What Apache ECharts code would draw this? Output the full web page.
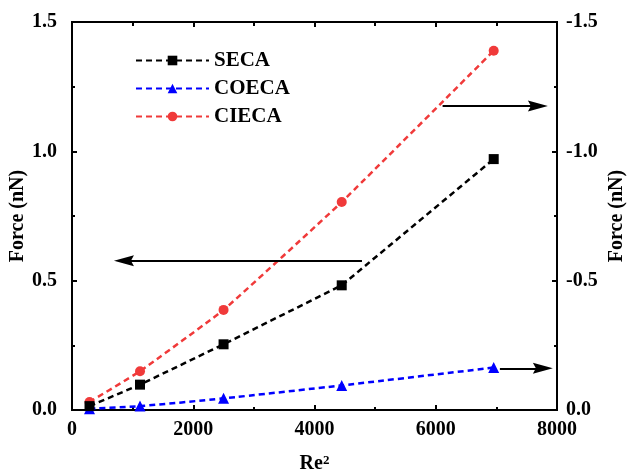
<!DOCTYPE html>
<html>
<head>
<meta charset="utf-8">
<script src="https://cdn.jsdelivr.net/npm/echarts@6/dist/echarts.min.js"></script>
<style>html,body{margin:0;padding:0;background:#fff}#c{width:627px;height:476px}</style>
</head>
<body>
<div id="c"></div>
<script>
// Re^2 values
const re2 = [289, 1122, 2500, 4449, 6956];
// Force values (nN)
const seca = [0.015, 0.098, 0.254, 0.482, 0.970];     // left axis
const coeca = [-0.005, -0.015, -0.045, -0.095, -0.164]; // right axis
const cieca = [-0.031, -0.150, -0.387, -0.804, -1.389]; // right axis
const seriesNames = ['SECA', 'COECA', 'CIECA'];
// annotation arrows [x0, y0, x1, y1] in left-axis data units (x1 = arrow head centre)
const arrows = [
  [4783, 0.577, 857, 0.577],
  [6113, 1.175, 7685, 1.175],
  [7058, 0.161, 7767, 0.161]
];

const FONT = 'Liberation Serif';
const txt = {fontFamily: FONT, fontWeight: 'bold', fontSize: 20, color: '#000'};
const axLine = () => ({show: true, onZero: false, lineStyle: {color: '#000', width: 2}});
const tick = () => ({show: true, inside: true, length: 5, lineStyle: {width: 2, color: '#000'}});
const minor = (len) => ({show: true, splitNumber: 2, length: len || 3, lineStyle: {width: 2, color: '#000'}});
const pair = (xs, ys) => xs.map((x, i) => [x, ys[i]]);
const dash = [6, 4];

const chart = echarts.init(document.getElementById('c'), null, {renderer: 'canvas'});
chart.setOption({
  animation: false,
  backgroundColor: '#fff',
  grid: {left: 72, right: 70, top: 22, bottom: 66, outerBoundsMode: 'none', containLabel: false,
         show: true, borderColor: '#000', borderWidth: 2, backgroundColor: 'transparent'},
  legend: {
    left: 130, top: 45, orient: 'vertical',
    itemWidth: 73, itemHeight: 12, itemGap: 7,
    textStyle: Object.assign({}, txt, {fontSize: 21, lineHeight: 20}),
    data: seriesNames
  },
  xAxis: [{
    type: 'value', min: 0, max: 8000, interval: 2000,
    name: '{a|Re}{b|2}', nameLocation: 'middle', nameGap: 44, nameMoveOverlap: false,
    nameTextStyle: {rich: {a: Object.assign({}, txt, {fontSize: 20}), b: Object.assign({}, txt, {fontSize: 13, verticalAlign: 'top', lineHeight: 20})}},
    axisLine: axLine(), axisTick: tick(), minorTick: minor(3),
    axisLabel: Object.assign({margin: 10, formatter: v => String(v)}, txt),
    splitLine: {show: false}
  }, {
    type: 'value', min: 0, max: 8000, interval: 2000, position: 'top',
    axisLine: axLine(), axisTick: tick(), minorTick: minor(4),
    axisLabel: {show: false},
    splitLine: {show: false}
  }],
  yAxis: [{
    type: 'value', min: 0, max: 1.5, interval: 0.5, position: 'left',
    name: 'Force (nN)', nameLocation: 'middle', nameGap: 44, nameRotate: 90, nameMoveOverlap: false,
    nameTextStyle: Object.assign({}, txt),
    axisLine: axLine(), axisTick: tick(), minorTick: minor(3),
    axisLabel: Object.assign({margin: 15, formatter: v => v.toFixed(1)}, txt),
    splitLine: {show: false}
  }, {
    type: 'value', min: -1.5, max: 0, interval: 0.5, position: 'right', inverse: true,
    name: 'Force (nN)', nameLocation: 'middle', nameGap: 50, nameRotate: 90, nameMoveOverlap: false,
    nameTextStyle: Object.assign({}, txt),
    axisLine: axLine(), axisTick: tick(), minorTick: minor(3),
    axisLabel: Object.assign({margin: 9, formatter: v => (Math.abs(v) < 1e-9 ? '0.0' : v.toFixed(1))}, txt),
    splitLine: {show: false}
  }],
  series: [{
    name: seriesNames[0], type: 'line', xAxisIndex: 0, yAxisIndex: 0,
    data: pair(re2, seca), symbol: 'rect', symbolSize: 10,
    itemStyle: {color: '#000'},
    lineStyle: {color: '#000', width: 2.5, type: dash},
    z: 3,
    markLine: {
      silent: true, animation: false,
      label: {show: false},
      lineStyle: {color: '#000', width: 2, type: 'solid'},
      emphasis: {disabled: true},
      data: arrows.map(a => [
        {coord: [a[0], a[1]], symbol: 'none'},
        {coord: [a[2], a[3]], symbol: 'path://M5,0 L10,20 L5,17 L0,20 Z', symbolSize: [11, 20]}
      ])
    }
  }, {
    name: seriesNames[1], type: 'line', xAxisIndex: 0, yAxisIndex: 1,
    data: pair(re2, coeca), symbol: 'triangle', symbolSize: 11,
    itemStyle: {color: '#0000ff'},
    lineStyle: {color: '#0000ff', width: 2.5, type: dash},
    smooth: 0.2, z: 2
  }, {
    name: seriesNames[2], type: 'line', xAxisIndex: 0, yAxisIndex: 1,
    data: pair(re2, cieca), symbol: 'circle', symbolSize: 10,
    itemStyle: {color: '#f03a3a'},
    lineStyle: {color: '#f03a3a', width: 2.5, type: dash},
    smooth: 0.1, z: 1
  }]
});
</script>
</body>
</html>
